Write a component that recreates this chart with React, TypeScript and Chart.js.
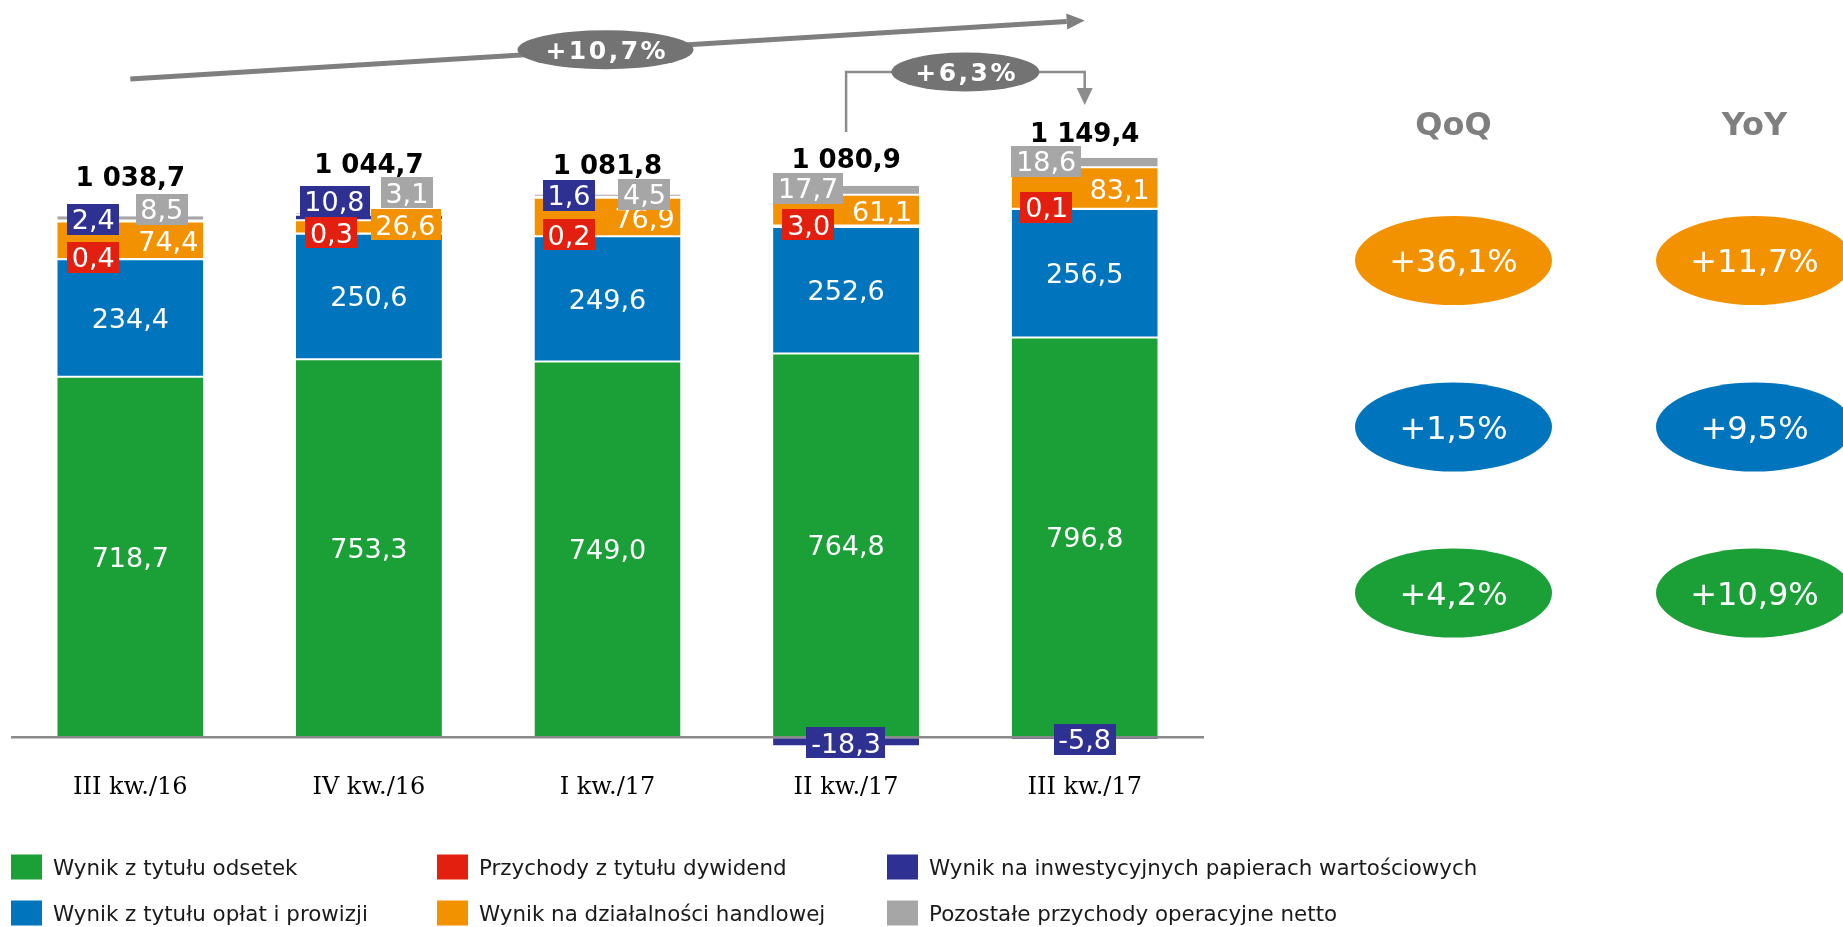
import React, { useEffect, useRef } from 'react';
import { Chart, registerables } from 'chart.js';

Chart.register(...registerables);

// ---------- DATA ----------
const categories = ['III kw./16', 'IV kw./16', 'I kw./17', 'II kw./17', 'III kw./17'];
const interestIncome = [718.7, 753.3, 749.0, 764.8, 796.8];
const feeIncome = [234.4, 250.6, 249.6, 252.6, 256.5];
const dividendIncome = [0.4, 0.3, 0.2, 3.0, 0.1];
const tradingIncome = [74.4, 26.6, 76.9, 61.1, 83.1];
const investmentIncome = [2.4, 10.8, 1.6, -18.3, -5.8];
const otherIncome = [8.5, 3.1, 4.5, 17.7, 18.6];
const totalIncome = [1038.7, 1044.7, 1081.8, 1080.9, 1149.4];

const seriesNames = [
  'Wynik z tytułu odsetek',
  'Wynik z tytułu opłat i prowizji',
  'Przychody z tytułu dywidend',
  'Wynik na działalności handlowej',
  'Wynik na inwestycyjnych papierach wartościowych',
  'Pozostałe przychody operacyjne netto',
];

const growthAllPeriods = '+10,7%';
const growthLastQuarter = '+6,3%';
const changeHeaders = ['QoQ', 'YoY'];
const qoqChanges = ['+36,1%', '+1,5%', '+4,2%'];
const yoyChanges = ['+11,7%', '+9,5%', '+10,9%'];

// ---------- STYLE ----------
const COLORS = {
  green: '#1ba037',
  blue: '#0075be',
  red: '#e3200f',
  orange: '#f39200',
  navy: '#2e3192',
  grey: '#a6a6a6',
};
const seriesColors = [COLORS.green, COLORS.blue, COLORS.red, COLORS.orange, COLORS.navy, COLORS.grey];
const SANS = "'DejaVu Sans', Verdana, sans-serif";
const SERIF = "'DejaVu Serif', serif";

// label placement (pixel offsets from bar centre x and positive stack top y)
const dividendOffsets = [[-37, 41.3], [-37.5, 19.7], [-38.5, 40.4], [-37.5, 39.1], [-38, 49.7]];
const tradingOffsets = [[38, 24.8], [36.5, 11.7], [37, 23.4], [36, 25.1], [35, 31.2]];
const tradingBoxed = [false, true, false, false, false];
const investmentOffsets = [[-37, 3.3], [-34.5, -11.8], [-38.5, 0.9], null, null];
const otherOffsets = [[31.5, -6.7], [38, -20.3], [37, -0.1], [-38, 2.6], [-38.5, 3.2]];
const totalOffsets = [-40, -49.8, -29.6, -27.4, -25.8];

const fmt = (v: number) => v.toFixed(1).replace('.', ',');
const fmtTotal = (v: number) => {
  const [i, d] = v.toFixed(1).split('.');
  return i.replace(/\B(?=(\d{3})+(?!\d))/g, ' ') + ',' + d;
};

function textCentered(
  ctx: CanvasRenderingContext2D, text: string, x: number, y: number, size: number,
  color: string, bold = false, family = SANS, spacing = 0,
) {
  ctx.font = `${bold ? 'bold ' : ''}${size}px ${family}`;
  (ctx as any).letterSpacing = `${spacing}px`;
  ctx.fillStyle = color;
  ctx.textAlign = 'center';
  ctx.textBaseline = 'alphabetic';
  ctx.fillText(text, x + spacing / 2, y + size * 0.365);
  (ctx as any).letterSpacing = '0px';
}

function boxLabel(ctx: CanvasRenderingContext2D, text: string, x: number, y: number, bg: string) {
  const size = 27;
  ctx.font = `${size}px ${SANS}`;
  const w = ctx.measureText(text).width + 9.5;
  const h = 31;
  ctx.fillStyle = bg;
  ctx.fillRect(Math.round(x - w / 2), Math.round(y - h / 2), Math.round(w), h);
  textCentered(ctx, text, x, y, size, '#ffffff');
}

function ellipseLabel(
  ctx: CanvasRenderingContext2D, text: string, x: number, y: number, rx: number, ry: number,
  bg: string, size: number, bold: boolean, spacing = 0,
) {
  ctx.beginPath();
  ctx.ellipse(x, y, rx, ry, 0, 0, Math.PI * 2);
  ctx.fillStyle = bg;
  ctx.fill();
  textCentered(ctx, text, x, y, size, '#ffffff', bold, SANS, spacing);
}

const annotationPlugin = {
  id: 'annotations',
  afterDatasetsDraw(chart: any) {
    const ctx: CanvasRenderingContext2D = chart.ctx;
    const yScale = chart.scales.y;
    const area = chart.chartArea;
    const y0 = yScale.getPixelForValue(0);
    ctx.save();

    // zero line
    ctx.strokeStyle = '#8a8a8a';
    ctx.lineWidth = 2.5;
    ctx.beginPath();
    ctx.moveTo(area.left, y0);
    ctx.lineTo(area.right, y0);
    ctx.stroke();

    const metas = chart.data.datasets.map((_: any, i: number) => chart.getDatasetMeta(i));
    const n = chart.data.labels.length;
    const barX: number[] = [];

    for (let j = 0; j < n; j++) {
      const vals = chart.data.datasets.map((d: any) => d.data[j] as number);
      const posSum = vals.reduce((a: number, v: number) => (v > 0 ? a + v : a), 0);
      const top = yScale.getPixelForValue(posSum);
      const cx = metas[0].data[j].x;
      barX.push(cx);

      // centred labels in green and blue segments
      [0, 1].forEach((i) => {
        const el = metas[i].data[j];
        textCentered(ctx, fmt(vals[i]), el.x, (el.y + el.base) / 2, 27, '#ffffff');
      });

      // trading (orange)
      const to = tradingOffsets[j];
      if (tradingBoxed[j]) {
        boxLabel(ctx, fmt(vals[3]), cx + to[0], top + to[1], seriesColors[3]);
      } else {
        textCentered(ctx, fmt(vals[3]), cx + to[0], top + to[1], 27, '#ffffff');
      }

      // investment (navy)
      const io = investmentOffsets[j];
      if (io) {
        boxLabel(ctx, fmt(vals[4]), cx + io[0], top + io[1], seriesColors[4]);
      } else {
        const el = metas[4].data[j];
        boxLabel(ctx, fmt(vals[4]), el.x, (el.y + el.base) / 2 + 1, seriesColors[4]);
      }

      // dividends (red)
      const dof = dividendOffsets[j];
      boxLabel(ctx, fmt(vals[2]), cx + dof[0], top + dof[1], seriesColors[2]);

      // other (grey)
      const oo = otherOffsets[j];
      boxLabel(ctx, fmt(vals[5]), cx + oo[0], top + oo[1], seriesColors[5]);

      // total
      textCentered(ctx, fmtTotal(totalIncome[j]), cx, top + totalOffsets[j], 26, '#000000', true);
    }

    // long growth arrow
    const ax1 = barX[0], ay1 = 79, ax2 = barX[n - 1], ay2 = 20.5;
    const ang = Math.atan2(ay2 - ay1, ax2 - ax1);
    const headL = 18, headW = 8;
    const bx = ax2 - headL * Math.cos(ang), by = ay2 - headL * Math.sin(ang);
    ctx.strokeStyle = '#7f7f7f';
    ctx.fillStyle = '#7f7f7f';
    ctx.lineWidth = 5;
    ctx.beginPath();
    ctx.moveTo(ax1, ay1);
    ctx.lineTo(bx, by);
    ctx.stroke();
    ctx.beginPath();
    ctx.moveTo(ax2, ay2);
    ctx.lineTo(bx + headW * Math.sin(ang), by - headW * Math.cos(ang));
    ctx.lineTo(bx - headW * Math.sin(ang), by + headW * Math.cos(ang));
    ctx.closePath();
    ctx.fill();
    const mx = barX[2];
    const my = ay1 + (ay2 - ay1) * (mx - ax1) / (ax2 - ax1);
    ellipseLabel(ctx, growthAllPeriods, mx - 2, my, 88, 19.5, '#737373', 25, true, 2.5);

    // bracket arrow between last two bars
    const b1 = barX[n - 2], b2 = barX[n - 1];
    const bTop = 72;
    ctx.strokeStyle = '#8c8c8c';
    ctx.fillStyle = '#8c8c8c';
    ctx.lineWidth = 2.5;
    ctx.beginPath();
    ctx.moveTo(b1, 132);
    ctx.lineTo(b1, bTop);
    ctx.lineTo(b2, bTop);
    ctx.lineTo(b2, 89);
    ctx.stroke();
    ctx.beginPath();
    ctx.moveTo(b2 - 8, 88);
    ctx.lineTo(b2 + 8, 88);
    ctx.lineTo(b2, 105);
    ctx.closePath();
    ctx.fill();
    ellipseLabel(ctx, growthLastQuarter, (b1 + b2) / 2, bTop, 74, 19.5, '#737373', 25, true, 2.5);

    // QoQ / YoY panel
    const colX = [1453.5, 1754.5];
    const rowY = [260.5, 427, 593];
    const rowColors = [seriesColors[3], seriesColors[1], seriesColors[0]];
    changeHeaders.forEach((h, c) => textCentered(ctx, h, colX[c], 123, 32, '#7f7f7f', true));
    [qoqChanges, yoyChanges].forEach((col, c) => {
      col.forEach((t, r) => ellipseLabel(ctx, t, colX[c], rowY[r], 98.5, 44.5, rowColors[r], 32, false));
    });

    // legend
    const legendOrder = [[0, 2, 4], [1, 3, 5]];
    const legX = [11, 437, 887];
    const legY = [867, 913];
    legendOrder.forEach((row, r) => {
      row.forEach((si, c) => {
        ctx.fillStyle = seriesColors[si];
        ctx.fillRect(legX[c], legY[r] - 12.5, 31, 25);
        ctx.font = `21.4px ${SANS}`;
        ctx.fillStyle = '#1a1a1a';
        ctx.textAlign = 'left';
        ctx.textBaseline = 'alphabetic';
        ctx.fillText(chart.data.datasets[si].label, legX[c] + 42, legY[r] + 21.4 * 0.365);
      });
    });

    ctx.restore();
  },
};

export default function App() {
  const ref = useRef<HTMLCanvasElement>(null);
  useEffect(() => {
    document.body.style.margin = '0';
    const series = [interestIncome, feeIncome, dividendIncome, tradingIncome, investmentIncome, otherIncome];
    const borders = [
      { top: 1, bottom: 0, left: 0, right: 0 },
      { top: 1, bottom: 1, left: 0, right: 0 },
      { top: 1, bottom: 1, left: 0, right: 0 },
      { top: 1, bottom: 1, left: 0, right: 0 },
      { top: 1, bottom: 1, left: 0, right: 0 },
      { top: 0, bottom: 1, left: 0, right: 0 },
    ];
    const chart = new Chart(ref.current as HTMLCanvasElement, {
      type: 'bar',
      data: {
        labels: categories,
        datasets: series.map((d, i) => ({
          label: seriesNames[i],
          data: d,
          backgroundColor: seriesColors[i],
          borderColor: '#ffffff',
          borderWidth: borders[i],
          borderSkipped: false,
          categoryPercentage: 1,
          barPercentage: 0.612,
        })),
      },
      options: {
        animation: false,
        responsive: true,
        maintainAspectRatio: false,
        layout: { padding: { left: 11, right: 639, top: 35, bottom: 109 } },
        plugins: { legend: { display: false }, tooltip: { enabled: false } },
        scales: {
          x: {
            stacked: true,
            grid: { display: false, drawTicks: false },
            border: { display: false },
            ticks: { color: '#000000', padding: 16, font: { family: SERIF, size: 24 } },
          },
          y: {
            stacked: true,
            display: false,
            min: -40,
            max: 1400,
          },
        },
      },
      plugins: [annotationPlugin],
    });
    return () => chart.destroy();
  }, []);
  return (
    <div style={{ position: 'relative', width: 1843, height: 927, background: '#ffffff' }}>
      <canvas ref={ref} />
    </div>
  );
}
